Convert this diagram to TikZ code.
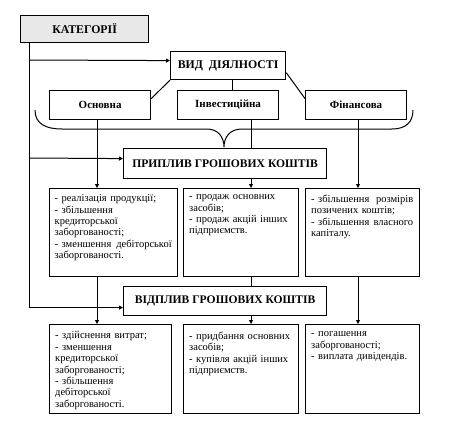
\documentclass[tikz,border=0pt]{standalone}
\usepackage{fontspec}
\setmainfont{Liberation Serif}
\newfontfamily\tnr{Liberation Serif}
\usetikzlibrary{arrows.meta,calc}
\definecolor{katfill}{HTML}{E8E8E8}
\tikzset{
  box/.style={draw, line width=1.2pt, inner sep=0pt, anchor=north west},
  ttl/.style={font=\tnr\fontsize{11.8}{13}\selectfont\bfseries},
  txt/.style={font=\tnr\fontsize{10.5}{11.4}\selectfont, anchor=north west, align=left, inner sep=0pt},
  con/.style={line width=1pt},
  arr/.style={con, -{Triangle[length=4pt,width=4pt]}}
}
\begin{document}
\begin{tikzpicture}[x=1pt,y=-1pt]
\useasboundingbox (0,0) rectangle (461,428);
% title boxes
\node[box, fill=katfill, minimum width=128pt, minimum height=27pt] (kat) at (20,15) {};
\node[ttl] (katt) at (kat.center) {КАТЕГОРІЇ};
\node[box, minimum width=115pt, minimum height=28pt] (vid) at (170,51) {};
\node[ttl] (vidt) at (vid.center) {ВИД\ \ ДІЯЛНОСТІ};
\node[box, minimum width=101pt, minimum height=29pt] (osn) at (49,90) {};
\node[ttl, font=\tnr\fontsize{11}{13}\selectfont\bfseries] (osnt) at (osn.center) {Основна};
\node[box, minimum width=101pt, minimum height=29pt] (inv) at (177,90) {};
\node[ttl, font=\tnr\fontsize{11}{13}\selectfont\bfseries] (invt) at (inv.center) {Інвестиційна};
\node[box, minimum width=101pt, minimum height=29pt] (fin) at (305,90) {};
\node[ttl, font=\tnr\fontsize{11}{13}\selectfont\bfseries] (fint) at (fin.center) {Фінансова};
\node[box, minimum width=203pt, minimum height=30pt] (prip) at (123,148) {};
\node[ttl, font=\tnr\fontsize{11.6}{13}\selectfont\bfseries] (pript) at (prip.center) {ПРИПЛИВ ГРОШОВИХ КОШТІВ};
\node[box, minimum width=203pt, minimum height=29pt] (vidp) at (123,286) {};
\node[ttl, font=\tnr\fontsize{11.6}{13}\selectfont\bfseries] (vidpt) at (vidp.center) {ВІДПЛИВ ГРОШОВИХ КОШТІВ};
% inflow boxes
\node[box, minimum width=128pt, minimum height=88pt] (in1) at (49,188) {};
\node[box, minimum width=115pt, minimum height=88pt] (in2) at (183,188) {};
\node[box, minimum width=114pt, minimum height=88pt] (in3) at (305,188) {};
\node[txt, text width=117pt] (in1t) at ([xshift=5.5pt,yshift=-6.5pt]in1.north west) {- реалізація продукції;\\- збільшення\\кредиторської\\заборгованості;\\- зменшення\hfill дебіторської\\заборгованості.};
\node[txt, text width=104pt] (in2t) at ([xshift=6pt,yshift=-6.5pt]in2.north west) {- продаж основних\\засобів;\\- продаж акцій інших\\підприємств.};
\node[txt, text width=102pt] (in3t) at ([xshift=6pt,yshift=-6.5pt]in3.north west) {- збільшення\hfill розмірів\\позичених коштів;\\- збільшення\hfill власного\\капіталу.};
% outflow boxes
\node[box, minimum width=122pt, minimum height=89pt] (out1) at (49,324) {};
\node[box, minimum width=115pt, minimum height=89pt] (out2) at (183,324) {};
\node[box, minimum width=114pt, minimum height=89pt] (out3) at (305,324) {};
\node[txt, text width=110pt] (out1t) at ([xshift=6pt,yshift=-7.5pt]out1.north west) {- здійснення витрат;\\- зменшення\\кредиторської\\заборгованості;\\- збільшення\\дебіторської\\заборгованості.};
\node[txt, text width=104pt] (out2t) at ([xshift=6pt,yshift=-7.5pt]out2.north west) {- придбання основних\\засобів;\\- купівля акцій інших\\підприємств.};
\node[txt, text width=102pt] (out3t) at ([xshift=6pt,yshift=-7.5pt]out3.north west) {- погашення\\заборгованості;\\- виплата дивідендів.};
% columns
\coordinate (cK) at (29,0);
\coordinate (cA) at (97,0);
\coordinate (cB) at (251,0);
\coordinate (cC) at (358,0);
\coordinate (cV) at (232,0);
% left category line and branches
\draw[arr] (kat.south -| cK) |- ([yshift=-6.5pt]vidp.west);
\draw[arr] (cK |- 0,60) -- ([yshift=5pt]vid.west);
\draw[arr] (cK |- 0,158) -- ([yshift=5pt]prip.west);
% links to kinds of activity
\draw[con] ([yshift=6.5pt]osn.east) -- (vid.south west);
\draw[con] ([yshift=-7pt]vid.east) -- ([yshift=6.5pt]fin.west);
\draw[con] (vid.south -| cV) -- (inv.north -| cV);
% brace
\draw[con] (35,110) .. controls (35,124) and (46,129) .. (62,129) -- (207,129)
  .. controls (218,129) and (224,137) .. (224,147)
  .. controls (224,137) and (230,129) .. (242,129) -- (392,129)
  .. controls (406,129) and (413,122) .. (413,110);
% flows
\draw[arr] (osn.south -| cA) -- (in1.north -| cA);
\draw[con] (inv.south -| cB) -- (prip.north -| cB);
\draw[arr] (prip.south -| cB) -- (in2.north -| cB);
\draw[arr] (fin.south -| cC) -- (in3.north -| cC);
\draw[arr] (in1.south -| cA) -- (out1.north -| cA);
\draw[con] (in2.south -| cB) -- (vidp.north -| cB);
\draw[arr] (vidp.south -| cB) -- (out2.north -| cB);
\draw[arr] (in3.south -| cC) -- (out3.north -| cC);
\end{tikzpicture}
\end{document}
